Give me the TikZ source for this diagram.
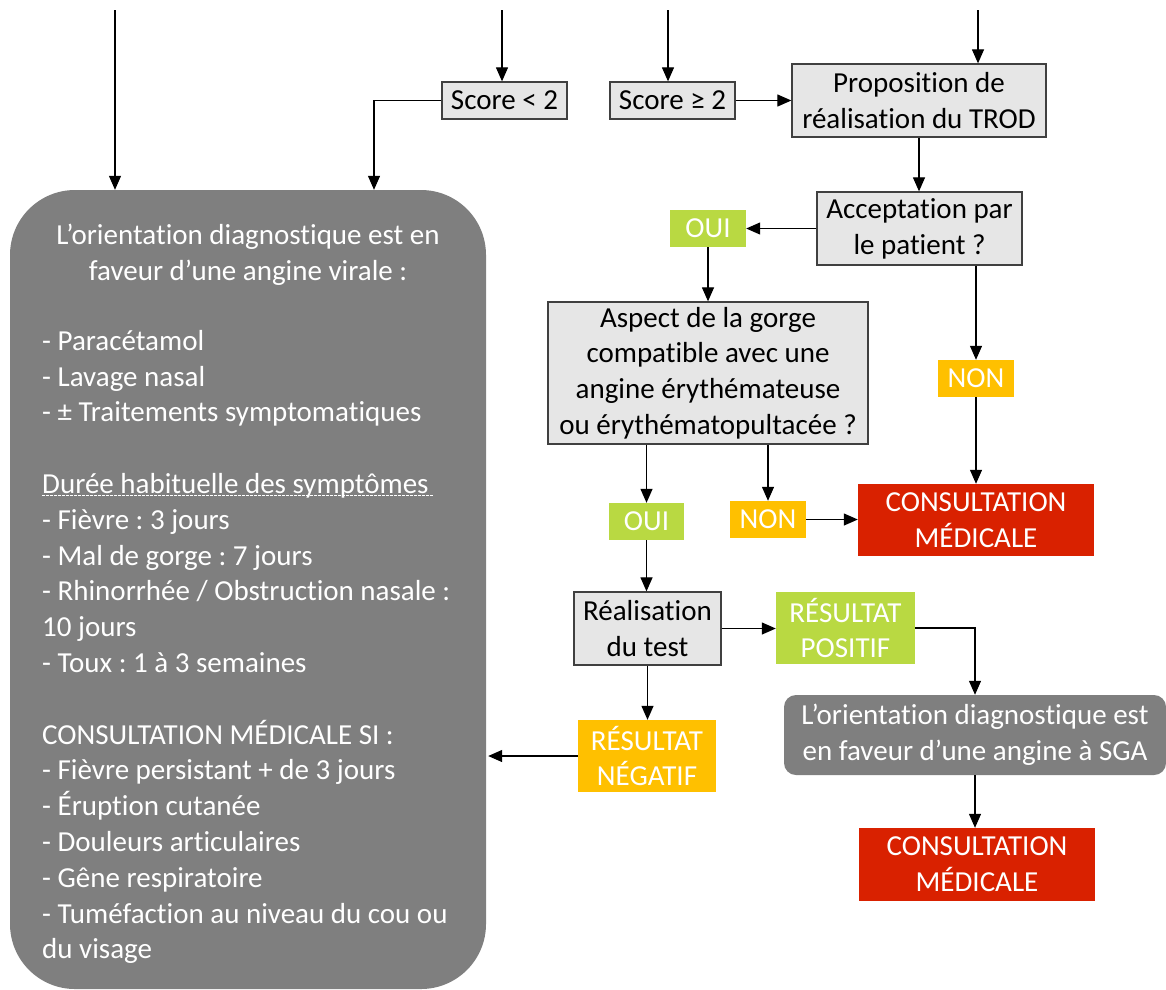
\documentclass[tikz,border=0pt]{standalone}
\usepackage{fontspec}
\setmainfont{Carlito}[Ligatures={NoCommon}]
\frenchspacing
\usetikzlibrary{arrows.meta}
\definecolor{qfill}{RGB}{230,230,230}
\definecolor{qdraw}{RGB}{64,64,64}
\definecolor{midgrey}{RGB}{127,127,127}
\definecolor{okgreen}{RGB}{185,217,66}
\definecolor{warnorange}{RGB}{255,192,0}
\definecolor{alertred}{RGB}{217,33,0}
\begin{document}
\begin{tikzpicture}[x=1pt,y=-1pt,
  font=\fontsize{29}{35.8}\selectfont,
  qbox/.style={draw=qdraw, fill=qfill, line width=1.3pt, inner sep=0pt, align=center},
  tagbox/.style={inner sep=0pt, align=center, text=white},
  greentag/.style={tagbox, fill=okgreen},
  orangetag/.style={tagbox, fill=warnorange},
  redtag/.style={tagbox, fill=alertred},
  arr/.style={line width=1.2pt, -{Triangle[length=14pt,width=12pt]}},
  ln/.style={line width=1.2pt}]
\useasboundingbox (0,0) rectangle (1166,989);

% big grey box
\node[fill=midgrey, rounded corners=65pt, minimum width=476pt, minimum height=799pt, inner sep=0pt] (vir) at (248,589.5) {};
\node[text=white, align=center, inner sep=0pt] (virhead) at (248,255) {L’orientation diagnostique est en\\faveur d’une angine virale :};
\node[text=white, align=left, inner sep=0pt, anchor=north west] (virbody) at (42,330) {- Paracétamol\\
- Lavage nasal\\
- ± Traitements symptomatiques\\[35.8pt]
Durée habituelle des symptômes\\
- Fièvre : 3 jours\\
- Mal de gorge : 7 jours\\
- Rhinorrhée / Obstruction nasale :\\
10 jours\\
- Toux : 1 à 3 semaines\\[35.8pt]
CONSULTATION MÉDICALE SI :\\
- Fièvre persistant + de 3 jours\\
- Éruption cutanée\\
- Douleurs articulaires\\
- Gêne respiratoire\\
- Tuméfaction au niveau du cou ou\\
du visage};
\draw[white, line width=0.8pt, dash pattern=on 2.5pt off 1.5pt] (42,495) -- (433,495);

% boxes
\node[qbox, minimum width=125pt, minimum height=37pt] (s1) at (504.5,100.5) {Score < 2};
\node[qbox, minimum width=125pt, minimum height=37pt] (s2) at (672.5,100.5) {Score ≥ 2};
\node[qbox, minimum width=254pt, minimum height=73pt] (prop) at (919,100.5) {Proposition de\\réalisation du TROD};
\node[qbox, minimum width=205pt, minimum height=73pt] (acc) at (919.5,228.5) {Acceptation par\\le patient ?};
\node[greentag, minimum width=76pt, minimum height=37pt] (oui1) at (708,228.5) {OUI};
\node[qbox, minimum width=320pt, minimum height=142pt] (asp) at (708,373) {Aspect de la gorge\\compatible avec une\\angine érythémateuse\\ou érythématopultacée ?};
\node[orangetag, minimum width=76pt, minimum height=37pt] (non1) at (976,378.5) {NON};
\node[redtag, minimum width=236pt, minimum height=72pt] (cons1) at (976,520) {CONSULTATION\\MÉDICALE};
\node[greentag, minimum width=75pt, minimum height=37pt] (oui2) at (646.5,521.5) {OUI};
\node[orangetag, minimum width=76pt, minimum height=37pt] (non2) at (768,519.5) {NON};
\node[qbox, minimum width=147pt, minimum height=73pt] (real) at (647.5,628.5) {Réalisation\\du test};
\node[greentag, minimum width=139pt, minimum height=72pt] (pos) at (845.5,628) {RÉSULTAT\\POSITIF};
\node[tagbox, fill=midgrey, rounded corners=12pt, minimum width=382pt, minimum height=80pt] (sga) at (975,735) {L’orientation diagnostique est\\en faveur d’une angine à SGA};
\node[redtag, minimum width=236pt, minimum height=73pt] (cons2) at (977,864.5) {CONSULTATION\\MÉDICALE};
\node[orangetag, minimum width=138pt, minimum height=72pt] (neg) at (647,756) {RÉSULTAT\\NÉGATIF};

% incoming lines from above
\coordinate (t1) at (115,10);
\coordinate (t2) at (502,10);
\coordinate (t3) at (668,10);
\coordinate (t4) at (978,10);
\draw[arr] (t1) -- (t1 |- vir.north);
\draw[arr] (t2) -- (t2 |- s1.north);
\draw[arr] (t3) -- (t3 |- s2.north);
\draw[arr] (t4) -- (t4 |- prop.north);

% connectors
\draw[arr] (s1.west) -| ([xshift=126pt]vir.north);
\draw[arr] (s2.east) -- (s2.east -| prop.west);
\draw[arr] (prop.south) -- (prop.south |- acc.north);
\draw[arr] (acc.west) -- (acc.west -| oui1.east);
\draw[arr] (oui1.south) -- (oui1.south |- asp.north);
\draw[arr] (non1.north |- acc.south) -- (non1.north);
\draw[arr] (non1.south) -- (non1.south |- cons1.north);
\draw[arr] (oui2.north |- asp.south) -- (oui2.north);
\draw[arr] (non2.north |- asp.south) -- (non2.north);
\draw[arr] (non2.east) -- (non2.east -| cons1.west);
\draw[arr] (oui2.south) -- (oui2.south |- real.north);
\draw[arr] (real.east) -- (real.east -| pos.west);
\draw[arr] (pos.east) -| (sga.north);
\draw[arr] (sga.south) -- (sga.south |- cons2.north);
\draw[arr] (real.south) -- (real.south |- neg.north);
\draw[arr] (neg.west) -- ([xshift=2pt]neg.west -| vir.east);
\end{tikzpicture}
\end{document}
